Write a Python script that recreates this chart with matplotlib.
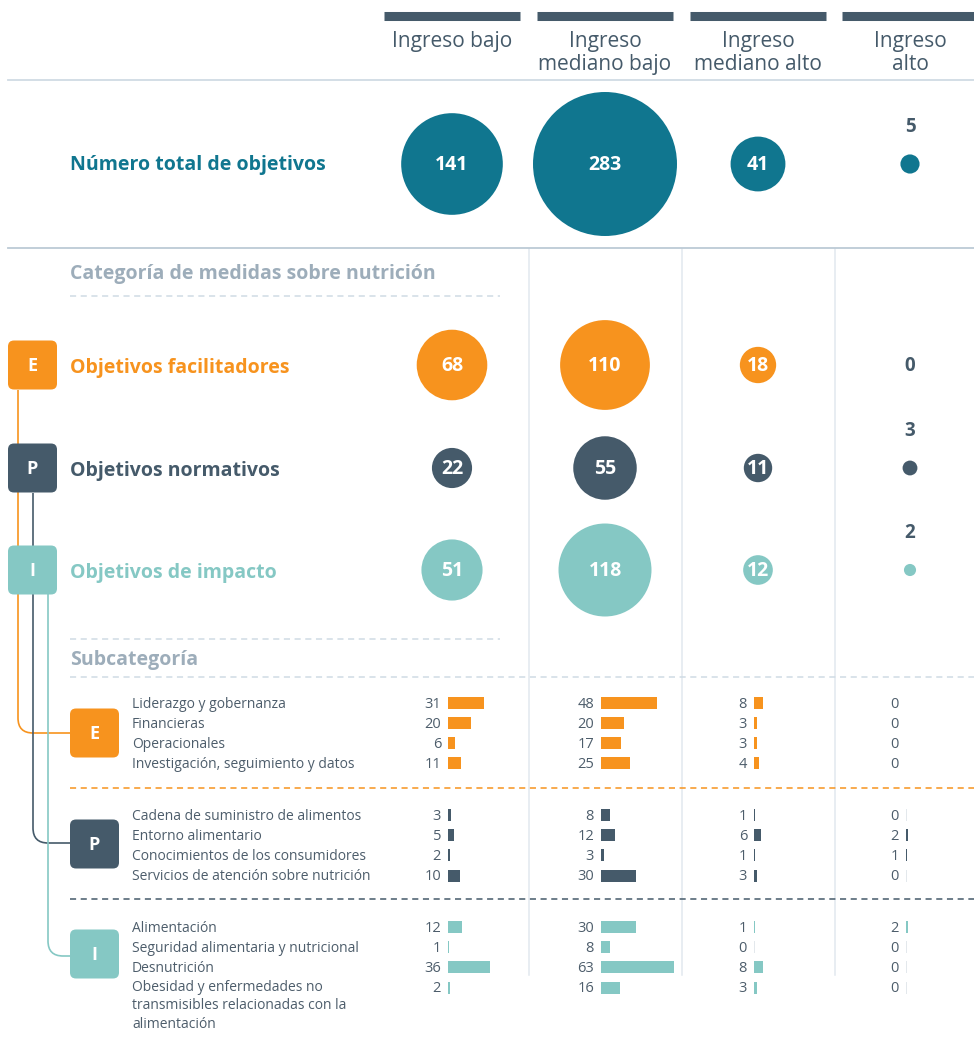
import numpy as np
import matplotlib.pyplot as plt
from matplotlib.patches import Circle, FancyBboxPatch, PathPatch
from matplotlib.path import Path

plt.rcParams['font.family'] = ['Open Sans', 'DejaVu Sans']

# data
ingresos = ['Ingreso bajo', 'Ingreso\nmediano bajo', 'Ingreso\nmediano alto', 'Ingreso\nalto']
total = [141, 283, 41, 5]
facilitadores = [68, 110, 18, 0]
normativos = [22, 55, 11, 3]
impacto = [51, 118, 12, 2]

sub_E_labels = ['Liderazgo y gobernanza', 'Financieras', 'Operacionales',
                'Investigación, seguimiento y datos']
sub_E = [[31, 48, 8, 0], [20, 20, 3, 0], [6, 17, 3, 0], [11, 25, 4, 0]]
sub_P_labels = ['Cadena de suministro de alimentos', 'Entorno alimentario',
                'Conocimientos de los consumidores', 'Servicios de atención sobre nutrición']
sub_P = [[3, 8, 1, 0], [5, 12, 6, 2], [2, 3, 1, 1], [10, 30, 3, 0]]
sub_I_labels = ['Alimentación', 'Seguridad alimentaria y nutricional', 'Desnutrición',
                'Obesidad y enfermedades no\ntransmisibles relacionadas con la\nalimentación']
sub_I = [[12, 30, 1, 2], [1, 8, 0, 0], [36, 63, 8, 0], [2, 16, 3, 0]]

blue = '#10768f'
orange = '#f7931e'
slate = '#455a6a'
teal = '#85c8c4'
grey = '#9dadba'
light = '#d0dbe4'
txt = '#4d5d6b'

fig = plt.figure(figsize=(9.74, 10.38), dpi=100)
ax = fig.add_axes([0, 0, 1, 1])
ax.set_xlim(0, 974)
ax.set_ylim(1038, 0)
ax.axis('off')

col_x = [452, 605, 758, 910]

# column headers
for x, lab in zip(col_x, ingresos):
    ax.plot([x - 68, x + 68], [16, 16], color=slate, lw=6.5, solid_capstyle='butt')
    ax.text(x, 31, lab, ha='center', va='top', fontsize=15, color=slate, linespacing=1.15)

# separators
ax.plot([8, 974], [80, 80], color=light, lw=1.3)
ax.plot([8, 974], [248, 248], color='#bccad5', lw=1.3)
for x in [528.5, 681.5, 834.5]:
    ax.plot([x, x], [249, 975], color='#e1e8ef', lw=1.1, zorder=0)


def bubble(x, y, v, color):
    if v == 0:
        ax.text(x, y + 1, '0', ha='center', va='center', fontsize=13.5, color=slate,
                fontweight='bold')
        return
    r = 4.28 * np.sqrt(v)
    ax.add_patch(Circle((x, y), r, color=color, lw=0, zorder=2))
    if r > 12:
        ax.text(x, y + 1, str(v), ha='center', va='center', fontsize=14, color='white',
                fontweight='bold', zorder=3)
    else:
        ax.text(x, y - 37, str(v), ha='center', va='center', fontsize=13.5, color=slate,
                fontweight='bold')


ax.text(70, 165, 'Número total de objetivos', ha='left', va='center', fontsize=14,
        color=blue, fontweight='bold')
for x, v in zip(col_x, total):
    bubble(x, 164, v, blue)

ax.text(70, 274, 'Categoría de medidas sobre nutrición', ha='left', va='center',
        fontsize=14, color=grey, fontweight='bold')
ax.plot([70, 500], [296, 296], color=light, lw=1.1, ls=(0, (4, 3)))

cats = [('E', 'Objetivos facilitadores', facilitadores, orange, 365),
        ('P', 'Objetivos normativos', normativos, slate, 468),
        ('I', 'Objetivos de impacto', impacto, teal, 570)]


def badge(x, y, letter, color, size=49):
    ax.add_patch(FancyBboxPatch((x, y - size / 2), size, size,
                                boxstyle='round,pad=0,rounding_size=6',
                                fc=color, ec='none', zorder=4))
    ax.text(x + size / 2, y + 1, letter, ha='center', va='center', fontsize=13,
            color='white', fontweight='bold', zorder=5)


for letter, lab, vals, color, y in cats:
    badge(8, y, letter, color)
    ax.text(70, y + 3, lab, ha='left', va='center', fontsize=14, color=color, fontweight='bold')
    for x, v in zip(col_x, vals):
        bubble(x, y, v, color)

# subcategory header
ax.plot([70, 500], [639, 639], color=light, lw=1.1, ls=(0, (4, 3)))
ax.text(70, 660, 'Subcategoría', ha='left', va='center', fontsize=14, color=grey,
        fontweight='bold')
ax.plot([70, 974], [677, 677], color=light, lw=1.1, ls=(0, (4, 3)))
ax.plot([70, 974], [788, 788], color=orange, lw=1.1, ls=(0, (4, 3)))
ax.plot([70, 974], [899, 899], color=slate, lw=1.1, ls=(0, (4, 3)))

# connectors
for x0, y_top, y_end, color in [(18, 390, 733, orange), (33, 493, 843, slate),
                                (48, 593, 956, teal)]:
    rad = 15
    verts = [(x0, y_top), (x0, y_end - rad), (x0, y_end), (x0 + rad, y_end), (72, y_end)]
    codes = [Path.MOVETO, Path.LINETO, Path.CURVE3, Path.CURVE3, Path.LINETO]
    ax.add_patch(PathPatch(Path(verts, codes), fc='none', ec=color, lw=1.2, zorder=1))

groups = [('E', sub_E_labels, sub_E, orange, 733, [703, 723, 743, 763]),
          ('P', sub_P_labels, sub_P, slate, 844, [815, 835, 855, 876]),
          ('I', sub_I_labels, sub_I, teal, 954, [927, 947, 967, 988])]

scale = 1.16
for letter, labels, vals, color, yb, rows in groups:
    badge(70, yb, letter, color)
    for lab, y in zip(labels, rows):
        if '\n' in lab:
            ax.text(132, y - 8, lab, ha='left', va='top', fontsize=10, color=txt,
                    linespacing=1.3)
        else:
            ax.text(132, y + 1, lab, ha='left', va='center', fontsize=10, color=txt)
    vals = np.array(vals)
    for j, x in enumerate(col_x):
        col = vals[:, j]
        if col.sum() == 0:
            w, cs = col * 0.0, color
        else:
            w = np.where(col > 0, col * scale, 1.0)
            cs = [color if c > 0 else '#e3e8ec' for c in col]
        ax.barh(rows, w, left=x - 4, height=12, color=cs, zorder=2)
        for y, c in zip(rows, col):
            ax.text(x - 11, y + 1, str(c), ha='right', va='center', fontsize=10.5, color=txt)

fig.savefig('out.png', dpi=100)
